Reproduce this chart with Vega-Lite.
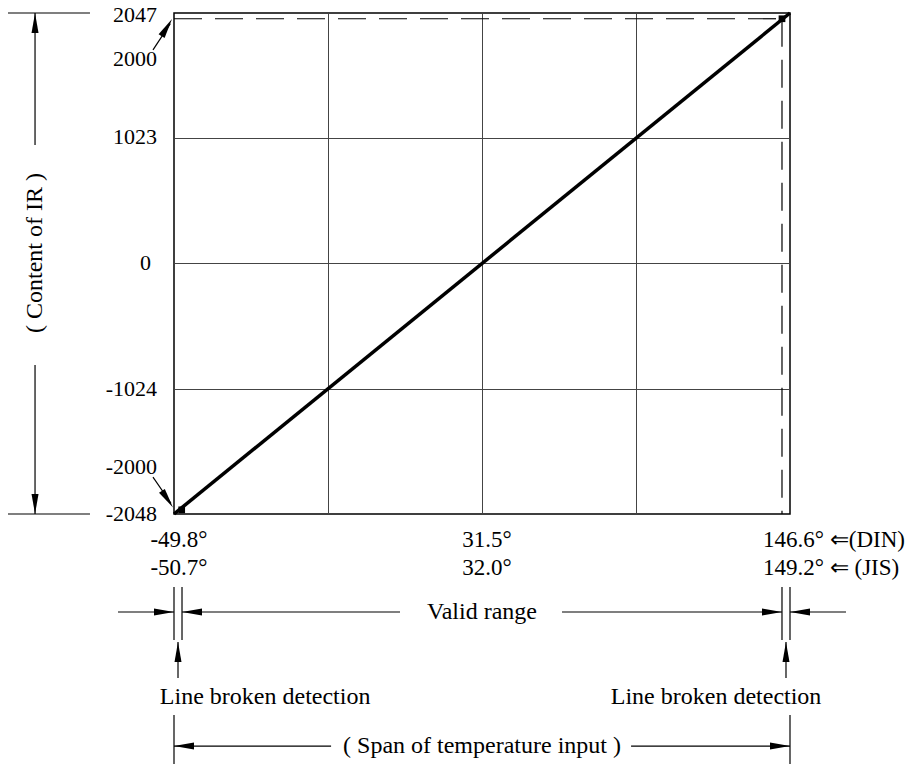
{
  "$schema": "https://vega.github.io/schema/vega-lite/v6.json",
  "width": 616,
  "height": 501,
  "autosize": {"type": "none"},
  "padding": {"left": 174, "top": 13, "right": 130, "bottom": 250},
  "background": "white",
  "config": {
    "view": {"stroke": "#000", "strokeWidth": 1.5},
    "text": {"font": "Liberation Serif", "fontSize": 22, "color": "#000"}
  },
  "datasets": {
    "thin": [
      {"x": -26.95, "y": 2047, "x2": -13.64, "y2": 2047},
      {"x": -26.95, "y": -2048, "x2": -13.64, "y2": -2048},
      {"x": -22.56, "y": 2047, "x2": -22.56, "y2": 968},
      {"x": -22.56, "y": -830, "x2": -22.56, "y2": -2048},
      {"x": -3.41, "y": 1745, "x2": -0.6, "y2": 1960},
      {"x": -3.41, "y": -1746, "x2": -0.5, "y2": -1960},
      {"x": -9.09, "y": -2849, "x2": 0, "y2": -2849},
      {"x": 1.3, "y": -2849, "x2": 36.69, "y2": -2849},
      {"x": 62.99, "y": -2849, "x2": 98.7, "y2": -2849},
      {"x": 100, "y": -2849, "x2": 109.09, "y2": -2849},
      {"x": 0, "y": -2645, "x2": 0, "y2": -3078},
      {"x": 1.3, "y": -2645, "x2": 1.3, "y2": -3078},
      {"x": 98.7, "y": -2645, "x2": 98.7, "y2": -3078},
      {"x": 100, "y": -2645, "x2": 100, "y2": -3078},
      {"x": 0.65, "y": -3094, "x2": 0.65, "y2": -3389},
      {"x": 99.35, "y": -3094, "x2": 99.35, "y2": -3389},
      {"x": 0, "y": -3691, "x2": 0, "y2": -4100},
      {"x": 100, "y": -3691, "x2": 100, "y2": -4100},
      {"x": 0, "y": -3944.5, "x2": 25.5, "y2": -3944.5},
      {"x": 74.2, "y": -3944.5, "x2": 100, "y2": -3944.5}
    ],
    "dashed": [
      {"x": 0, "y": 2000, "x2": 98.7, "y2": 2000},
      {"x": 98.7, "y": 2000, "x2": 98.7, "y2": -2048}
    ],
    "conversion": [
      {"x": 0, "y": -2048, "x2": 100, "y2": 2047}
    ],
    "markers": [
      {"x": 98.7, "y": 2000},
      {"x": 1.25, "y": -2014}
    ],
    "arrows": [
      {"x": -22.56, "y": 2047, "angle": 0},
      {"x": -22.56, "y": -2048, "angle": 180},
      {"x": -0.32, "y": 1998, "angle": 31.5},
      {"x": -0.16, "y": -1995, "angle": 146.3},
      {"x": 0, "y": -2849, "angle": 90},
      {"x": 1.3, "y": -2849, "angle": 270},
      {"x": 98.7, "y": -2849, "angle": 90},
      {"x": 100, "y": -2849, "angle": 270},
      {"x": 0.65, "y": -3094, "angle": 0},
      {"x": 99.35, "y": -3094, "angle": 0},
      {"x": 0, "y": -3944.5, "angle": 270},
      {"x": 100, "y": -3944.5, "angle": 90}
    ],
    "labelsRight": [
      {"x": -2.76, "y": 2031, "label": "2047"},
      {"x": -2.76, "y": 1671, "label": "2000"},
      {"x": -2.76, "y": 1030, "label": "1023"},
      {"x": -3.73, "y": 0, "label": "0"},
      {"x": -2.76, "y": -1024, "label": "-1024"},
      {"x": -2.76, "y": -1664, "label": "-2000"},
      {"x": -2.76, "y": -2048, "label": "-2048"}
    ],
    "labelsDegrees": [
      {"x": 0.81, "y": -2261, "label": "-49.8°"},
      {"x": 0.81, "y": -2490, "label": "-50.7°"},
      {"x": 50.8, "y": -2261, "label": "31.5°"},
      {"x": 50.8, "y": -2490, "label": "32.0°"}
    ],
    "labelsWords": [
      {"x": 50, "y": -2849, "label": "Valid range"},
      {"x": 14.8, "y": -3544, "label": "Line broken detection"},
      {"x": 88.0, "y": -3544, "label": "Line broken detection"},
      {"x": 50, "y": -3944.5, "label": "( Span of temperature input )"}
    ],
    "labelsLeft": [
      {"x": 95.62, "y": -2261, "label": "146.6°  ⇐(DIN)"},
      {"x": 95.62, "y": -2490, "label": "149.2°  ⇐  (JIS)"}
    ],
    "labelsRotated": [
      {"x": -22.56, "y": 85, "label": "( Content  of  IR )"}
    ]
  },
  "encoding": {
    "x": {
      "field": "x", "type": "quantitative",
      "scale": {"domain": [0, 100], "nice": false, "zero": false},
      "axis": {"values": [25, 50, 75], "grid": true, "gridColor": "#444", "gridWidth": 1, "labels": false, "ticks": false, "domain": false, "title": null}
    },
    "y": {
      "field": "y", "type": "quantitative",
      "scale": {"domain": [-2048, 2047], "nice": false, "zero": false},
      "axis": {"values": [-1024, 0, 1023], "grid": true, "gridColor": "#444", "gridWidth": 1, "labels": false, "ticks": false, "domain": false, "title": null}
    }
  },
  "layer": [
    {
      "data": {"name": "thin"},
      "mark": {"type": "rule", "color": "#000", "strokeWidth": 1.2},
      "encoding": {"x2": {"field": "x2"}, "y2": {"field": "y2"}}
    },
    {
      "data": {"name": "dashed"},
      "mark": {"type": "rule", "color": "#000", "strokeWidth": 1.2, "strokeDash": [28, 13]},
      "encoding": {"x2": {"field": "x2"}, "y2": {"field": "y2"}}
    },
    {
      "data": {"name": "conversion"},
      "mark": {"type": "rule", "color": "#000", "strokeWidth": 3.5},
      "encoding": {"x2": {"field": "x2"}, "y2": {"field": "y2"}}
    },
    {
      "data": {"name": "markers"},
      "mark": {"type": "point", "shape": "square", "filled": true, "color": "#000", "size": 45, "opacity": 1}
    },
    {
      "data": {"name": "arrows"},
      "mark": {"type": "point", "shape": "M0,0L0.35,2L-0.35,2Z", "filled": true, "color": "#000", "size": 400, "opacity": 1, "strokeWidth": 0},
      "encoding": {"angle": {"field": "angle", "type": "quantitative", "scale": null}}
    },
    {
      "data": {"name": "labelsRight"},
      "mark": {"type": "text", "align": "right", "baseline": "middle", "fontSize": 22},
      "encoding": {"text": {"field": "label"}}
    },
    {
      "data": {"name": "labelsDegrees"},
      "mark": {"type": "text", "align": "center", "baseline": "middle", "fontSize": 23},
      "encoding": {"text": {"field": "label"}}
    },
    {
      "data": {"name": "labelsWords"},
      "mark": {"type": "text", "align": "center", "baseline": "middle", "fontSize": 24},
      "encoding": {"text": {"field": "label"}}
    },
    {
      "data": {"name": "labelsLeft"},
      "mark": {"type": "text", "align": "left", "baseline": "middle", "fontSize": 23},
      "encoding": {"text": {"field": "label"}}
    },
    {
      "data": {"name": "labelsRotated"},
      "mark": {"type": "text", "align": "center", "baseline": "middle", "angle": 270, "fontSize": 24},
      "encoding": {"text": {"field": "label"}}
    }
  ]
}
